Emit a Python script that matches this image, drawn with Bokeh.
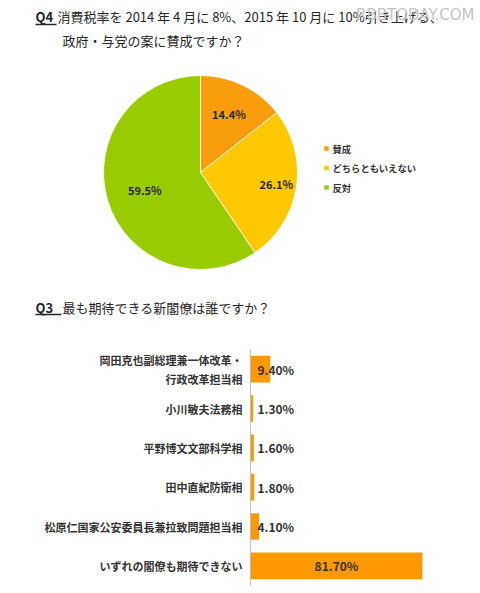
import math
from bokeh.plotting import figure
from bokeh.models import Range1d, FactorRange, ColumnDataSource
from bokeh.layouts import column
from bokeh.embed import file_html
from bokeh.resources import INLINE
from bokeh.core.properties import value

# ---------------- data ----------------
q4_tag = "Q4"
q4_title_line1 = "消費税率を 2014 年 4 月に 8%、2015 年 10 月に 10%引き上げる、"
q4_title_line2 = "政府・与党の案に賛成ですか？"
q3_tag = "Q3"
q3_title = "最も期待できる新閣僚は誰ですか？"
watermark = "RBBTODAY.COM"

pie_labels = ["賛成", "どちらともいえない", "反対"]
pie_values = [14.4, 26.1, 59.5]
pie_colors = ["#F99D0C", "#FFC800", "#99CC00"]

bar_categories = [
    "岡田克也副総理兼一体改革・\n行政改革担当相",
    "小川敏夫法務相",
    "平野博文文部科学相",
    "田中直紀防衛相",
    "松原仁国家公安委員長兼拉致問題担当相",
    "いずれの閣僚も期待できない",
]
bar_values = [9.4, 1.3, 1.6, 1.8, 4.1, 81.7]
bar_color = "#FF9900"

FONT = "Noto Sans CJK JP"
TXT = "#262626"

# ---------------- top figure: titles + pie ----------------
WA, HA = 476, 340
pa = figure(width=WA, height=HA, x_range=Range1d(0, WA), y_range=Range1d(0, HA),
            output_backend="svg", toolbar_location=None, min_border=0,
            x_axis_location=None, y_axis_location=None)
pa.grid.visible = False
pa.outline_line_color = None
pa.background_fill_color = "white"
pa.border_fill_color = "white"

def X(rx):
    return rx

def Y(ry):
    return HA - ry

# titles
pa.text(x=[X(35)], y=[Y(16)], text=[q4_tag], text_font=value(FONT), text_font_size="13px",
        text_font_style="bold", text_color=TXT, text_baseline="middle", text_align="left")
pa.segment(x0=[X(35)], y0=[Y(24)], x1=[X(56)], y1=[Y(24)], line_color=TXT, line_width=1.5)
pa.text(x=[X(57)], y=[Y(16)], text=[q4_title_line1], text_font=value(FONT), text_font_size="13px",
        text_color=TXT, text_baseline="middle", text_align="left")
pa.text(x=[X(62)], y=[Y(40)], text=[q4_title_line2], text_font=value(FONT), text_font_size="13px",
        text_color=TXT, text_baseline="middle", text_align="left")
pa.text(x=[X(474)], y=[Y(14)], text=[watermark], text_font=value("DejaVu Sans"), text_font_size="15px",
        text_color="#c4c4c4", text_baseline="middle", text_align="right")

pa.text(x=[X(35)], y=[Y(307)], text=[q3_tag], text_font=value(FONT), text_font_size="13px",
        text_font_style="bold", text_color=TXT, text_baseline="middle", text_align="left")
pa.segment(x0=[X(35)], y0=[Y(314)], x1=[X(61)], y1=[Y(314)], line_color=TXT, line_width=1.5)
pa.text(x=[X(62)], y=[Y(307)], text=[q3_title], text_font=value(FONT), text_font_size="13px",
        text_color=TXT, text_baseline="middle", text_align="left")

# pie
cx, cy, r = X(200), Y(172), 97
total = sum(pie_values)
starts, ends, mids = [], [], []
cum = 0.0
for v in pie_values:
    a0 = math.pi / 2 - 2 * math.pi * cum / total
    cum += v
    a1 = math.pi / 2 - 2 * math.pi * cum / total
    starts.append(a0)
    ends.append(a1)
    mids.append((a0 + a1) / 2)

pie_src = ColumnDataSource(dict(start=starts, end=ends, color=pie_colors, label=pie_labels,
                                value=pie_values))
pa.wedge(x=cx, y=cy, radius=r, start_angle="start", end_angle="end", direction="clock",
         fill_color="color", line_color="white", line_width=0.8, source=pie_src)

label_r = [0.67, 0.79, 0.6]
lx = [cx + f * r * math.cos(m) for f, m in zip(label_r, mids)]
ly = [cy + f * r * math.sin(m) for f, m in zip(label_r, mids)]
pa.text(x=lx, y=ly, text=[f"{v:.1f}%" for v in pie_values], text_font=value(FONT),
        text_font_size="11px", text_font_style="bold", text_color=TXT,
        text_align="center", text_baseline="middle")

# legend
leg_y = [Y(148) - i * 19.5 for i in range(len(pie_labels))]
pa.scatter(x=[X(326)] * len(pie_labels), y=leg_y, marker="square", size=4.5,
           fill_color=pie_colors, line_color=None)
pa.text(x=[X(332)] * len(pie_labels), y=leg_y, text=pie_labels, text_font=value(FONT),
        text_font_size="9.3px", text_font_style="bold", text_color="#333333",
        text_align="left", text_baseline="middle")

# ---------------- bottom figure: bar chart ----------------
WB, HB = 472, 250
px_per_pct = 2.105
frame_left = 250
pb = figure(width=WB, height=HB,
            y_range=FactorRange(factors=list(reversed(bar_categories))),
            x_range=Range1d(0, (WB - frame_left) / px_per_pct),
            output_backend="svg", toolbar_location=None,
            min_border_left=frame_left, min_border_right=0, min_border_top=9, min_border_bottom=5,
            x_axis_location=None)
pb.grid.visible = False
pb.outline_line_color = None
pb.background_fill_color = "white"
pb.border_fill_color = "white"

bar_src = ColumnDataSource(dict(cat=bar_categories, val=bar_values,
                                lab=[f"{v:.2f}%" for v in bar_values],
                                lx=[v / 2 if v > 20 else 3.3 for v in bar_values],
                                la=["center" if v > 20 else "left" for v in bar_values]))
pb.hbar(y="cat", right="val", left=0, height=0.68, fill_color=bar_color, line_color=None,
        source=bar_src)
pb.text(x="lx", y="cat", text="lab", text_align="la", text_baseline="middle",
        text_font=value(FONT), text_font_size="12px", text_font_style="bold",
        text_color="#333333", source=bar_src)

yax = pb.yaxis[0]
yax.axis_line_color = "#bfbfbf"
yax.axis_line_width = 1
yax.major_tick_in = 0
yax.major_tick_out = 0
yax.major_label_standoff = 8
yax.major_label_text_font = FONT
yax.major_label_text_font_size = "11px"
yax.major_label_text_font_style = "bold"
yax.major_label_text_color = "#333333"

for p in (pa, pb):
    if "frame_align" in p.properties():
        p.frame_align = False

layout = column(pa, pb, spacing=0)
open("out.html", "w").write(file_html(layout, INLINE))
